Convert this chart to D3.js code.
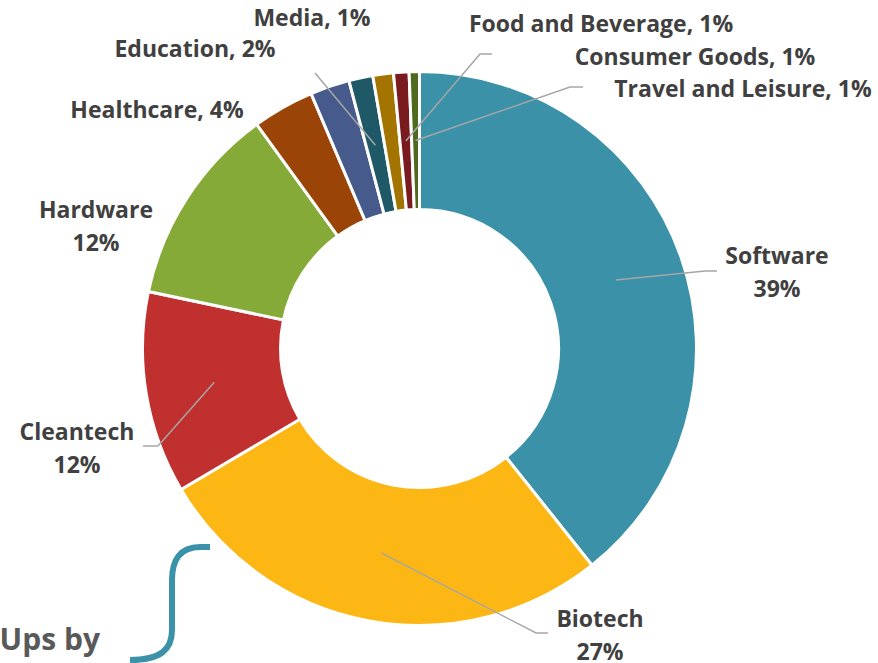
<!DOCTYPE html>
<html>
<head>
<meta charset="utf-8">
<script src="https://cdn.jsdelivr.net/npm/d3@7"></script>
<style>
  html, body { margin: 0; padding: 0; background: #fff; }
  svg { display: block; }
</style>
</head>
<body>
<div id="chart"></div>
<script>
// data (share of start-ups, percent)
var categories = ['Software', 'Biotech', 'Cleantech', 'Hardware', 'Healthcare', 'Education', 'Media', 'Food and Beverage', 'Consumer Goods', 'Travel and Leisure'];
var shares = [39.3, 27.2, 11.8, 11.7, 3.6, 2.3, 1.4, 1.2, 0.9, 0.6];
var colors = ['#3A91A8', '#FDB714', '#C0302F', '#86AA38', '#9A4507', '#465A8C', '#1F5866', '#A37400', '#7A1B1F', '#4F6A1F'];

// label layout (excel style manual placement)
var labelLayout = [
	{x: 777, y: 264, twoLine: true, leader: [[705, 271], [717, 271]]},
	{x: 600, y: 627, twoLine: true, leader: [[536, 633], [548, 633]]},
	{x: 77, y: 440, twoLine: true, leader: [[158, 446], [143, 446]]},
	{x: 96, y: 218, twoLine: true, leader: null},
	{x: 157, y: 118, twoLine: false, leader: null},
	{x: 195, y: 57, twoLine: false, leader: null},
	{x: 312, y: 26, twoLine: false, leader: [[315, 73]]},
	{x: 601, y: 32, twoLine: false, leader: null},
	{x: 695, y: 65, twoLine: false, leader: [[480, 54], [492, 54]]},
	{x: 743, y: 97, twoLine: false, leader: [[570, 87], [583, 87]]}
];

var width = 878, height = 663;
var cx = 419.5, cy = 348.5, outerR = 277, innerR = 139;

var svg = d3.select('#chart').append('svg')
	.attr('width', width)
	.attr('height', height);

var pie = d3.pie().sort(null).value(function(d){ return d; });
var arc = d3.arc().innerRadius(innerR).outerRadius(outerR);
var arcs = pie(shares);

var g = svg.append('g').attr('transform', 'translate(' + cx + ',' + cy + ')');

g.selectAll('path.slice')
	.data(arcs)
	.enter()
		.append('path')
			.attr('class', 'slice')
			.attr('d', arc)
			.attr('fill', function(d, i){ return colors[i]; })
			.attr('stroke', '#fff')
			.attr('stroke-width', 3)
			.attr('stroke-linejoin', 'miter');

// leader lines start at the slice centroid
var line = d3.line();
arcs.forEach(function(d, i){
	var lay = labelLayout[i];
	if(!lay.leader) return;
	var c = arc.centroid(d);
	var pts = [[c[0] + cx, c[1] + cy]].concat(lay.leader);
	svg.append('path')
		.attr('d', line(pts))
		.attr('fill', 'none')
		.attr('stroke', '#A6A6A6')
		.attr('stroke-width', 1.5);
});

// labels
var labels = svg.append('g')
	.attr('font-family', '"Open Sans", sans-serif')
	.attr('font-weight', 700)
	.attr('font-size', '23px')
	.attr('fill', '#404040')
	.attr('text-anchor', 'middle');

arcs.forEach(function(d, i){
	var lay = labelLayout[i];
	var pct = Math.round(shares[i]) + '%';
	var t = labels.append('text').attr('x', lay.x).attr('y', lay.y);
	if(lay.twoLine){
		t.append('tspan').attr('x', lay.x).text(categories[i]);
		t.append('tspan').attr('x', lay.x).attr('dy', 33).text(pct);
	} else {
		t.text(categories[i] + ', ' + pct);
	}
});

// cropped title and bracket at bottom left
svg.append('text')
	.attr('x', 100)
	.attr('y', 650)
	.attr('text-anchor', 'end')
	.attr('font-family', '"Open Sans", sans-serif')
	.attr('font-weight', 700)
	.attr('font-size', '30px')
	.attr('fill', '#595959')
	.text('Start-Ups by');

svg.append('path')
	.attr('d', 'M210,547 L200,547 C180,547 172,560 172,580 L172,630 C172,650 160,660 130,660')
	.attr('fill', 'none')
	.attr('stroke', '#3A91A8')
	.attr('stroke-width', 6);
</script>
</body>
</html>
